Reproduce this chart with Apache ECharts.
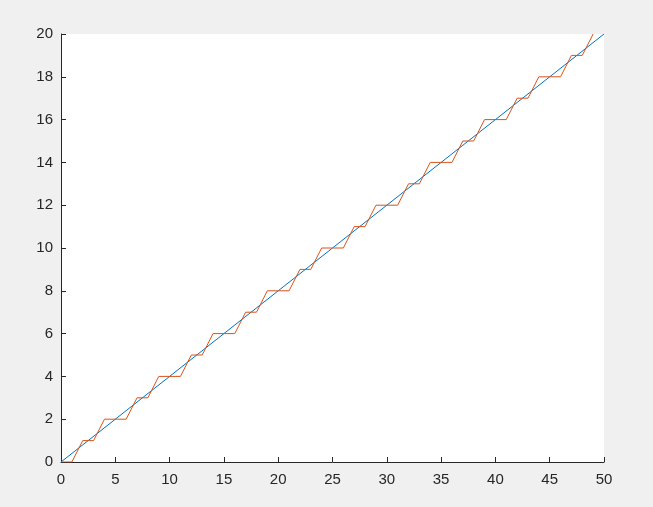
<!DOCTYPE html>
<html><head><meta charset="utf-8">
<script src="https://cdn.jsdelivr.net/npm/echarts@6/dist/echarts.min.js"></script>
<style>html,body{margin:0;padding:0;background:#f0f0f0;}#c{width:653px;height:507px;}</style>
</head><body><div id="c"></div>
<script>
var lineX = [0, 50];
var lineY = [0, 20];
var stepX = [0,1,2,3,4,5,6,7,8,9,10,11,12,13,14,15,16,17,18,19,20,21,22,23,24,25,26,27,28,29,30,31,32,33,34,35,36,37,38,39,40,41,42,43,44,45,46,47,48,49];
var stepY = [0,0,1,1,2,2,2,3,3,4,4,4,5,5,6,6,6,7,7,8,8,8,9,9,10,10,10,11,11,12,12,12,13,13,14,14,14,15,15,16,16,16,17,17,18,18,18,19,19,20];

function pairs(xs, ys){ return xs.map(function(x,i){ return [x, ys[i]]; }); }

var chart = echarts.init(document.getElementById('c'), null, {renderer:'canvas'});
var axisText = {color:'#262626', fontFamily:'Liberation Sans, Arial, sans-serif', fontSize:15};
chart.setOption({
  backgroundColor:'#f0f0f0',
  animation:false,
  grid:{left:61, right:49, top:34, bottom:45, show:true, backgroundColor:'#ffffff', borderWidth:0},
  xAxis:{type:'value', min:0, max:50, interval:5,
    axisLine:{show:true, onZero:false, lineStyle:{color:'#262626', width:1}},
    axisTick:{show:true, inside:true, length:5, lineStyle:{color:'#262626'}},
    axisLabel:Object.assign({margin:10}, axisText),
    splitLine:{show:false}},
  yAxis:{type:'value', min:0, max:20, interval:2,
    axisLine:{show:true, onZero:false, lineStyle:{color:'#262626', width:1}},
    axisTick:{show:true, inside:true, length:5, lineStyle:{color:'#262626'}},
    axisLabel:Object.assign({margin:8}, axisText),
    splitLine:{show:false}},
  series:[
    {type:'line', data:pairs(lineX, lineY), symbol:'none', lineStyle:{color:'#0072BD', width:1}, z:2},
    {type:'line', data:pairs(stepX, stepY), symbol:'none', lineStyle:{color:'#D95319', width:1}, z:3}
  ]
});
</script></body></html>
